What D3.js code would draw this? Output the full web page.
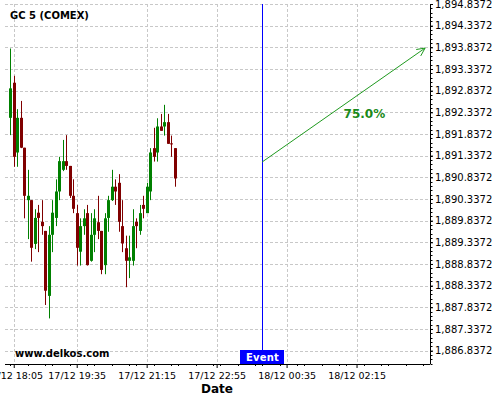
<!DOCTYPE html>
<html>
<head>
<meta charset="utf-8">
<script src="https://cdn.jsdelivr.net/npm/d3@7"></script>
<style>
html,body{margin:0;padding:0;background:#fff;}
svg{display:block;font-family:"DejaVu Sans",sans-serif;}
</style>
</head>
<body>
<svg id="chart" width="500" height="400"></svg>
<script>
const title = "GC 5 (COMEX)";
const times = ["17/12 18:00","17/12 18:05","17/12 18:10","17/12 18:15","17/12 18:20","17/12 18:25","17/12 18:30","17/12 18:35",
"17/12 18:40","17/12 18:45","17/12 18:50","17/12 18:55","17/12 19:00","17/12 19:05","17/12 19:10","17/12 19:15",
"17/12 19:20","17/12 19:25","17/12 19:30","17/12 19:35","17/12 19:40","17/12 19:45","17/12 19:50","17/12 19:55",
"17/12 20:00","17/12 20:05","17/12 20:10","17/12 20:15","17/12 20:20","17/12 20:25","17/12 20:30","17/12 20:35",
"17/12 20:40","17/12 20:45","17/12 20:50","17/12 20:55","17/12 21:00","17/12 21:05","17/12 21:10","17/12 21:15",
"17/12 21:20","17/12 21:25","17/12 21:30","17/12 21:35","17/12 21:40","17/12 21:45","17/12 21:50","17/12 21:55"];
const open  = [1892.21,1893.02,1891.41,1892.21,1891.52,1890.31,1890.31,1889.30,1890.02,1889.81,1889.60,1888.10,1889.51,1889.90,1890.51,1891.01,
               1891.21,1891.10,1890.41,1890.01,1889.12,1889.71,1890.01,1888.91,1889.51,1889.80,1889.60,1888.81,1889.90,1890.31,1890.62,1890.71,
               1889.71,1889.20,1888.91,1888.91,1889.81,1889.60,1890.20,1890.01,1890.51,1891.51,1891.41,1892.01,1892.01,1892.11,1891.62,1891.51];
const high  = [1893.81,1893.18,1892.41,1892.60,1891.52,1891.01,1890.31,1890.10,1890.20,1890.31,1889.60,1889.71,1890.31,1890.79,1891.31,1891.70,
               1891.81,1891.10,1890.79,1890.20,1889.89,1890.10,1890.20,1890.01,1890.10,1890.41,1889.60,1890.01,1890.41,1891.01,1890.79,1890.91,
               1890.31,1889.49,1889.49,1890.10,1889.89,1890.20,1890.41,1890.71,1891.51,1891.98,1892.20,1892.30,1892.51,1892.30,1891.80,1891.51];
const low   = [1891.81,1891.08,1891.08,1891.51,1889.89,1889.41,1888.89,1889.18,1889.11,1889.51,1887.89,1887.58,1889.11,1889.71,1890.31,1890.98,
               1891.01,1890.36,1890.01,1888.80,1888.80,1889.51,1888.80,1888.89,1889.11,1889.41,1888.60,1888.60,1889.58,1890.29,1890.20,1889.58,
               1889.11,1888.30,1888.51,1888.80,1889.20,1889.51,1889.89,1890.01,1890.31,1891.20,1891.20,1891.91,1891.80,1891.61,1891.31,1890.62];
const close = [1892.89,1891.31,1892.21,1891.52,1890.41,1890.41,1889.21,1889.90,1889.90,1889.71,1888.22,1889.51,1890.02,1890.51,1891.21,1891.21,
               1891.10,1890.41,1890.11,1889.21,1889.71,1889.89,1888.81,1889.51,1889.89,1889.60,1888.70,1889.89,1890.31,1890.62,1890.51,1889.81,
               1889.31,1888.91,1888.99,1889.71,1889.71,1890.01,1890.11,1890.62,1891.41,1891.31,1892.01,1891.91,1892.11,1891.61,1891.61,1890.81];
const yTicks = [1886.8372,1887.3372,1887.8372,1888.3372,1888.8372,1889.3372,1889.8372,1890.3372,1890.8372,
                1891.3372,1891.8372,1892.3372,1892.8372,1893.3372,1893.8372,1894.3372,1894.8372];
const xTickLabels = ["17/12 18:05","17/12 19:35","17/12 21:15","17/12 22:55","18/12 00:35","18/12 02:15"];
const xDomainLabels = ["17/12 17:52:30","18/12 04:00:00"];
const yDomain = [1886.528, 1894.8372];
const eventTime = "18/12 00:00";
const eventLabel = "Event";
const arrowFrom = {time:"18/12 00:00", price:1891.19};
const arrowTo = {time:"18/12 03:53", price:1893.82};
const arrowLabel = "75.0%";
const watermark = "www.delkos.com";
const xAxisTitle = "Date";

const parse = d3.timeParse("%d/%m %H:%M");
const parseS = d3.timeParse("%d/%m %H:%M:%S");
const fmt = d3.timeFormat("%d/%m %H:%M");

const L = 5, R = 430, T = 4, B = 364;
const svg = d3.select("#chart");
svg.append("rect").attr("width",500).attr("height",400).attr("fill","#fff");

const x = d3.scaleTime().domain(xDomainLabels.map(parseS)).range([L,R]);
const y = d3.scaleLinear().domain(yDomain).range([B,T]);

const xTicks = xTickLabels.map(parse);
const grid = svg.append("g").attr("stroke","#c8c8c8").attr("stroke-dasharray","3,2").attr("stroke-width",1);
grid.selectAll(".hg").data(yTicks).join("line")
  .attr("x1",L).attr("x2",R)
  .attr("y1",d=>Math.round(y(d))+0.5).attr("y2",d=>Math.round(y(d))+0.5);
grid.selectAll(".vg").data(xTicks).join("line")
  .attr("x1",d=>Math.round(x(d))+0.5).attr("x2",d=>Math.round(x(d))+0.5)
  .attr("y1",T).attr("y2",B);

// candles
const candles = times.map((t,i)=>({t:parse(t),o:open[i],h:high[i],l:low[i],c:close[i]}));
const cg = svg.append("g");
candles.forEach(d=>{
  const col = d.c >= d.o ? "#008000" : "#800000";
  const cx = Math.round(x(d.t));
  cg.append("line").attr("x1",cx+0.5).attr("x2",cx+0.5)
    .attr("y1",y(d.h)).attr("y2",y(d.l)).attr("stroke",col).attr("stroke-width",1);
  const top = y(Math.max(d.o,d.c)), bot = y(Math.min(d.o,d.c));
  cg.append("rect").attr("x",cx-1).attr("width",3)
    .attr("y",top).attr("height",Math.max(1,bot-top)).attr("fill",col);
});

// event line
const ex = Math.round(x(parse(eventTime)))+0.5;
svg.append("line").attr("x1",ex).attr("x2",ex).attr("y1",T).attr("y2",350)
  .attr("stroke","#0000ff").attr("stroke-width",1);

// arrow
const ax1 = x(parse(arrowFrom.time)), ay1 = y(arrowFrom.price);
const ax2 = x(parse(arrowTo.time)), ay2 = y(arrowTo.price);
const ag = svg.append("g").attr("stroke","#1f9a1f").attr("stroke-width",1).attr("fill","none");
ag.append("line").attr("x1",ax1).attr("y1",ay1).attr("x2",ax2).attr("y2",ay2);
const ang = Math.atan2(ay2-ay1, ax2-ax1);
const hl = 9, ha = 0.45;
ag.append("path").attr("d",
  `M${ax2-hl*Math.cos(ang-ha)},${ay2-hl*Math.sin(ang-ha)}L${ax2},${ay2}L${ax2-hl*Math.cos(ang+ha)},${ay2-hl*Math.sin(ang+ha)}`);
svg.append("text").attr("x",(ax1+ax2)/2).attr("y",(ay1+ay2)/2+13)
  .attr("font-size",12).attr("font-weight","bold").attr("fill","#1a8a1a").text(arrowLabel);

// right axis
const yAxis = d3.axisRight(y).tickValues(yTicks).tickFormat(d3.format(",.4f")).tickSize(3).tickPadding(2);
const ya = svg.append("g").attr("transform",`translate(${R},0)`).call(yAxis);
ya.select(".domain").attr("d",`M0.5,${T}V${B}`).attr("stroke","#000");
ya.selectAll("text").attr("font-size",10).attr("font-family","DejaVu Sans").attr("fill","#000");
const yMinor = d3.range(yDomain[0], yDomain[1], 0.1).map(v=>Math.round((v - yTicks[0])*10)/10 + yTicks[0]).filter(v=>v>=yDomain[0]&&v<=yDomain[1]);
ya.selectAll(".minor").data(yMinor).join("line").attr("x1",0.5).attr("x2",2.5)
  .attr("y1",d=>Math.round(y(d))+0.5).attr("y2",d=>Math.round(y(d))+0.5).attr("stroke","#000");

// bottom axis
const xAxis = d3.axisBottom(x).tickValues(xTicks).tickFormat(fmt).tickSize(4).tickPadding(4);
const xa = svg.append("g").attr("transform",`translate(0,${B})`).call(xAxis);
xa.select(".domain").attr("d",`M${L},0.5H${R}`).attr("stroke","#000");
xa.selectAll("text").attr("font-size",9.5).attr("font-family","DejaVu Sans").attr("fill","#000");
const xMinor = d3.timeMinute.every(25).range(x.domain()[0], x.domain()[1]);
xa.selectAll(".minor").data(xMinor).join("line")
  .attr("x1",d=>Math.round(x(d))+0.5).attr("x2",d=>Math.round(x(d))+0.5).attr("y1",0).attr("y2",2).attr("stroke","#000");

// event box
svg.append("rect").attr("x",ex-22.5).attr("y",350).attr("width",44).attr("height",14).attr("fill","#0000ff");
svg.append("text").attr("x",ex).attr("y",361).attr("text-anchor","middle")
  .attr("font-size",10).attr("font-weight","bold").attr("fill","#fff").attr("letter-spacing",0.2).text(eventLabel);

// texts
svg.append("text").attr("x",10).attr("y",19).attr("font-size",10).attr("font-weight","bold").attr("fill","#000").text(title);
svg.append("text").attr("x",15).attr("y",357).attr("font-size",10).attr("font-weight","bold").attr("fill","#000").text(watermark);
svg.append("text").attr("x",217).attr("y",393).attr("text-anchor","middle").attr("font-size",12).attr("font-weight","bold").attr("fill","#000").text(xAxisTitle);
</script>
</body>
</html>
